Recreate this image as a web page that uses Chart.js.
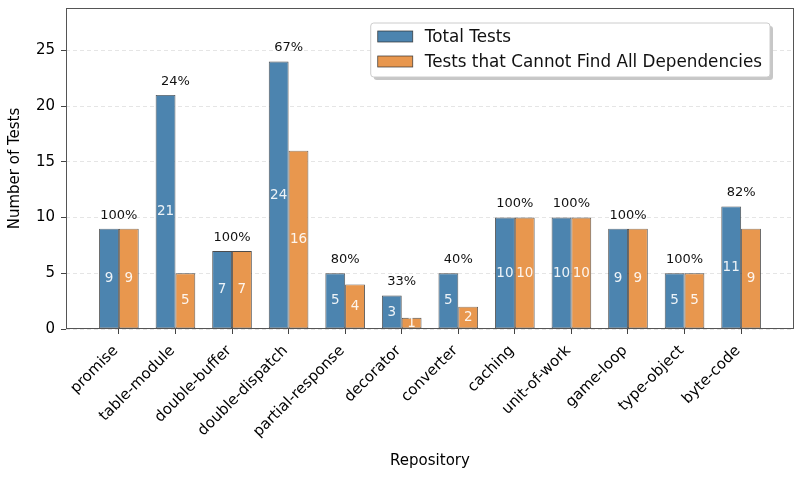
<!DOCTYPE html>
<html>
<head>
<meta charset="utf-8">
<script src="https://cdn.jsdelivr.net/npm/chart.js@4/dist/chart.umd.min.js"></script>
<style>
  html, body { margin: 0; padding: 0; background: #fff; }
  #wrap { width: 800px; height: 477px; }
</style>
</head>
<body>
<div id="wrap"><canvas id="myChart" width="800" height="477"></canvas></div>
<script>
const repos = ["promise", "table-module", "double-buffer", "double-dispatch", "partial-response",
  "decorator", "converter", "caching", "unit-of-work", "game-loop", "type-object", "byte-code"];
const totalTests = [9, 21, 7, 24, 5, 3, 5, 10, 10, 9, 5, 11];
const missingDeps = [9, 5, 7, 16, 4, 1, 2, 10, 10, 9, 5, 9];
const yTicks = [0, 5, 10, 15, 20, 25];
const seriesNames = ["Total Tests", "Tests that Cannot Find All Dependencies"];

const FONT = "'DejaVu Sans', sans-serif";
const BLUE = "#4C84AF";
const ORANGE = "#E8974E";
const EDGE = "rgba(45,45,45,0.85)";

// value labels inside bars + percentage above each pair
const barLabels = {
  id: "barLabels",
  afterDatasetsDraw(chart) {
    const ctx = chart.ctx;
    const y = chart.scales.y;
    ctx.save();
    ctx.textAlign = "center";
    ctx.textBaseline = "middle";
    ctx.font = "13.5px " + FONT;
    ctx.fillStyle = "rgba(255,255,255,0.9)";
    chart.data.datasets.forEach((ds, di) => {
      chart.getDatasetMeta(di).data.forEach((bar, i) => {
        ctx.fillText(String(ds.data[i].y), bar.x, (bar.y + bar.base) / 2);
      });
    });
    ctx.font = "13px " + FONT;
    ctx.fillStyle = "#111";
    ctx.textBaseline = "bottom";
    const xs = chart.scales.x;
    repos.forEach((r, i) => {
      const top = Math.max(totalTests[i], missingDeps[i]);
      const pct = Math.round(missingDeps[i] / totalTests[i] * 100) + "%";
      ctx.fillText(pct, xs.getPixelForValue(i), y.getPixelForValue(top) - 7);
    });
    ctx.restore();
  }
};

// axes frame and boxed legend
const frameAndLegend = {
  id: "frameAndLegend",
  afterDraw(chart) {
    const ctx = chart.ctx;
    const a = chart.chartArea;
    ctx.save();
    ctx.strokeStyle = "#555";
    ctx.lineWidth = 1;
    ctx.strokeRect(a.left + 0.5, a.top + 0.5, a.right - a.left - 1, a.bottom - a.top - 1);

    ctx.font = "16.8px " + FONT;
    const textW = Math.max(...seriesNames.map(n => ctx.measureText(n).width));
    const right = a.right - 24;
    const w = 54 + textW + 8;
    const left = right - w;
    const top = a.top + 15;
    const h = 54;
    const rr = (x, y, ww, hh, r) => {
      ctx.beginPath();
      ctx.moveTo(x + r, y);
      ctx.arcTo(x + ww, y, x + ww, y + hh, r);
      ctx.arcTo(x + ww, y + hh, x, y + hh, r);
      ctx.arcTo(x, y + hh, x, y, r);
      ctx.arcTo(x, y, x + ww, y, r);
      ctx.closePath();
    };
    ctx.fillStyle = "rgba(0,0,0,0.22)";
    rr(left + 3, top + 3, w, h, 3);
    ctx.fill();
    ctx.fillStyle = "#fff";
    rr(left, top, w, h, 3);
    ctx.fill();
    ctx.strokeStyle = "#cccccc";
    ctx.stroke();

    const colors = [BLUE, ORANGE];
    ctx.textAlign = "left";
    ctx.textBaseline = "middle";
    seriesNames.forEach((n, i) => {
      const cy = top + 13.5 + i * 25;
      ctx.fillStyle = colors[i];
      ctx.fillRect(left + 7, cy - 5.5, 35, 11);
      ctx.strokeStyle = EDGE;
      ctx.lineWidth = 0.8;
      ctx.strokeRect(left + 7, cy - 5.5, 35, 11);
      ctx.fillStyle = "#111";
      ctx.fillText(n, left + 54, cy + 1);
    });
    ctx.restore();
  }
};

const ctx = document.getElementById("myChart").getContext("2d");
new Chart(ctx, {
  type: "bar",
  data: {
    datasets: [
      {
        label: seriesNames[0],
        data: totalTests.map((v, i) => ({ x: i, y: v })),
        backgroundColor: BLUE,
        borderColor: EDGE,
        borderWidth: 0.9,
        borderSkipped: false
      },
      {
        label: seriesNames[1],
        data: missingDeps.map((v, i) => ({ x: i, y: v })),
        backgroundColor: ORANGE,
        borderColor: EDGE,
        borderWidth: 0.9,
        borderSkipped: false
      }
    ]
  },
  options: {
    responsive: false,
    animation: false,
    devicePixelRatio: 1,
    layout: { padding: { top: 8, right: 6, left: 0, bottom: 0 } },
    datasets: { bar: { categoryPercentage: 0.7, barPercentage: 1.0, grouped: true } },
    scales: {
      x: {
        type: "linear",
        min: -0.935,
        max: 11.935,
        offset: false,
        afterBuildTicks: (s) => { s.ticks = repos.map((r, i) => ({ value: i })); },
        afterFit: (s) => { s.height = 148; s.paddingLeft = 0; s.paddingRight = 0; },
        grid: { display: true, offset: false, drawOnChartArea: false, drawTicks: true, tickLength: 5, tickColor: "#444", tickWidth: 1 },
        border: { display: false },
        ticks: {
          autoSkip: false,
          maxRotation: 45,
          minRotation: 45,
          padding: 8,
          labelOffset: -3,
          color: "#000",
          font: { family: FONT, size: 15 },
          callback: (v) => repos[v]
        },
        title: { display: true, text: "Repository", color: "#000", font: { family: FONT, size: 15 }, padding: { top: 4, bottom: 7 } }
      },
      y: {
        min: 0,
        max: 28.8,
        afterBuildTicks: (s) => { s.ticks = yTicks.map(v => ({ value: v })); },
        afterFit: (s) => { s.width = 66; s.paddingTop = 0; s.paddingBottom = 0; },
        grid: { color: "rgba(0,0,0,0.1)", lineWidth: 1, tickLength: 5, tickColor: "#444", tickWidth: 1, tickBorderDash: [] },
        border: { display: false, dash: [4, 3] },
        ticks: { padding: 6, color: "#000", font: { family: FONT, size: 15 } },
        title: { display: true, text: "Number of Tests", color: "#000", font: { family: FONT, size: 15 }, padding: { top: 6, bottom: 4 } }
      }
    },
    plugins: {
      legend: { display: false },
      tooltip: { enabled: false }
    }
  },
  plugins: [barLabels, frameAndLegend]
});
</script>
</body>
</html>
